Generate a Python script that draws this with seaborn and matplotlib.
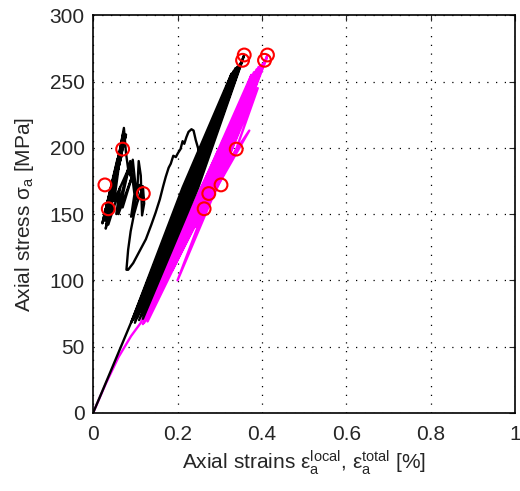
# -*- coding: utf-8 -*-
"""
Cyclic loading: axial stress vs local and total axial strain.
"""

import matplotlib
matplotlib.use("Agg")
import pandas as pd
import seaborn as sns
import matplotlib.pyplot as plt

# local strain path (black) [%] and stress [MPa]
local_strain = [
    0.000, 0.020, 0.045, 0.070, 0.095, 0.150, 0.200, 0.250, 0.300, 0.328,
    0.212, 0.090, 0.225, 0.333, 0.216, 0.095, 0.230, 0.337, 0.220, 0.099,
    0.233, 0.341, 0.225, 0.104, 0.237, 0.345, 0.229, 0.109, 0.241, 0.348,
    0.233, 0.114, 0.245, 0.351, 0.237, 0.118, 0.249, 0.354, 0.358,
    0.300, 0.252, 0.243, 0.238, 0.233, 0.226, 0.221, 0.216, 0.212, 0.207,
    0.201, 0.196, 0.190, 0.184, 0.179, 0.172, 0.166, 0.158, 0.148, 0.138,
    0.125, 0.110, 0.095, 0.083, 0.079,
    0.083, 0.089, 0.097, 0.105, 0.112, 0.118, 0.121, 0.116, 0.113, 0.108,
    0.104, 0.099, 0.094, 0.088, 0.083, 0.078, 0.073,
    0.030, 0.062, 0.026, 0.071, 0.040, 0.066, 0.022, 0.058, 0.034, 0.072,
    0.050, 0.085, 0.060, 0.092, 0.070, 0.045, 0.078, 0.038, 0.068, 0.028,
    0.052, 0.036, 0.064, 0.055, 0.088, 0.098, 0.090, 0.110, 0.120,
]
local_stress = [
    0, 15, 34, 53, 72, 116, 156, 195, 232, 256,
    170, 68, 170, 258, 170, 70, 170, 260, 170, 68,
    170, 261, 170, 72, 170, 262, 170, 70, 170, 263,
    170, 73, 170, 264, 170, 71, 170, 266, 270,
    228, 196, 206, 213, 214, 212, 208, 203, 205, 199,
    196, 193, 194, 188, 185, 178, 171, 161, 151, 142,
    131, 122, 113, 108, 108,
    123, 137, 150, 159, 165, 171, 158, 149, 179, 190,
    162, 176, 191, 179, 184, 196, 215,
    139, 196, 148, 206, 150, 200, 143, 192, 150, 212,
    160, 185, 150, 178, 155, 165, 210, 158, 195, 145,
    182, 142, 170, 150, 190, 165, 148, 172, 160,
]

# total strain path (magenta)
total_strain = [
    0.000, 0.030, 0.060, 0.090, 0.113, 0.150, 0.200, 0.250, 0.300, 0.350, 0.375,
    0.250, 0.118, 0.264, 0.381, 0.254, 0.121, 0.268, 0.387, 0.258, 0.125,
    0.272, 0.392, 0.262, 0.129, 0.276, 0.397, 0.290, 0.183, 0.300, 0.401,
    0.295, 0.200, 0.306, 0.406, 0.410, 0.300, 0.188, 0.312, 0.409, 0.413,
    0.330, 0.235, 0.300, 0.370, 0.300, 0.245, 0.339, 0.390, 0.330, 0.250,
]
total_stress = [
    0, 22, 42, 58, 68, 95, 131, 166, 200, 233, 255,
    165, 67, 165, 257, 165, 68, 165, 259, 165, 70,
    165, 261, 165, 69, 165, 262, 180, 107, 180, 263,
    180, 100, 180, 265, 267, 185, 108, 185, 266, 270,
    205, 138, 180, 213, 174, 140, 199, 245, 200, 145,
]

# red circle markers (same stress levels on both curves)
mark_stress = [172, 154, 199, 165.5, 266, 270]
mark_local = [0.028, 0.036, 0.070, 0.119, 0.354, 0.358]
mark_total = [0.303, 0.263, 0.339, 0.274, 0.406, 0.413]

x_ticks = [0, 0.2, 0.4, 0.6, 0.8, 1]
x_tick_labels = ["0", "0.2", "0.4", "0.6", "0.8", "1"]
y_ticks = [0, 50, 100, 150, 200, 250, 300]

sns.set_style("white")
plt.rcParams["font.family"] = ["Liberation Sans", "DejaVu Sans"]
plt.rcParams["mathtext.fontset"] = "custom"
plt.rcParams["mathtext.rm"] = "Liberation Sans"
plt.rcParams["mathtext.it"] = "Liberation Sans:italic"

fig = plt.figure(figsize=(5.2, 4.91), dpi=100)
ax = fig.add_axes([0.179, 0.159, 0.812, 0.810])

sns.lineplot(x=total_strain, y=total_stress, sort=False, estimator=None,
             color="#ff00ff", linewidth=1.7, ax=ax)
sns.lineplot(x=local_strain, y=local_stress, sort=False, estimator=None,
             color="black", linewidth=1.7, ax=ax)

marks = pd.DataFrame({
    "strain": mark_local + mark_total,
    "stress": mark_stress + mark_stress,
})
sns.scatterplot(data=marks, x="strain", y="stress", marker="o", s=85,
                facecolor="none", edgecolor="red", linewidth=1.5, ax=ax, zorder=5)

ax.set_xlim(0, 1)
ax.set_ylim(0, 300)
ax.set_xticks(x_ticks)
ax.set_xticklabels(x_tick_labels)
ax.set_yticks(y_ticks)
ax.grid(True, color="black", linestyle=(0, (1, 6)), linewidth=0.9)
ax.tick_params(direction="in", top=True, right=True, length=4, width=0.8,
               labelsize=15)
ax.tick_params(axis="x", pad=9)
ax.tick_params(axis="y", pad=6)
for sp in ax.spines.values():
    sp.set_linewidth(1.2)
    sp.set_color("black")

ax.set_xlabel(r"Axial strains ε$_{\rm a}^{\rm local}$, ε$_{\rm a}^{\rm total}$ [%]",
              fontsize=15, labelpad=3)
ax.set_ylabel(r"Axial stress σ$_{\rm a}$ [MPa]", fontsize=15, labelpad=10)

fig.savefig("out.png", dpi=100)
plt.close()
